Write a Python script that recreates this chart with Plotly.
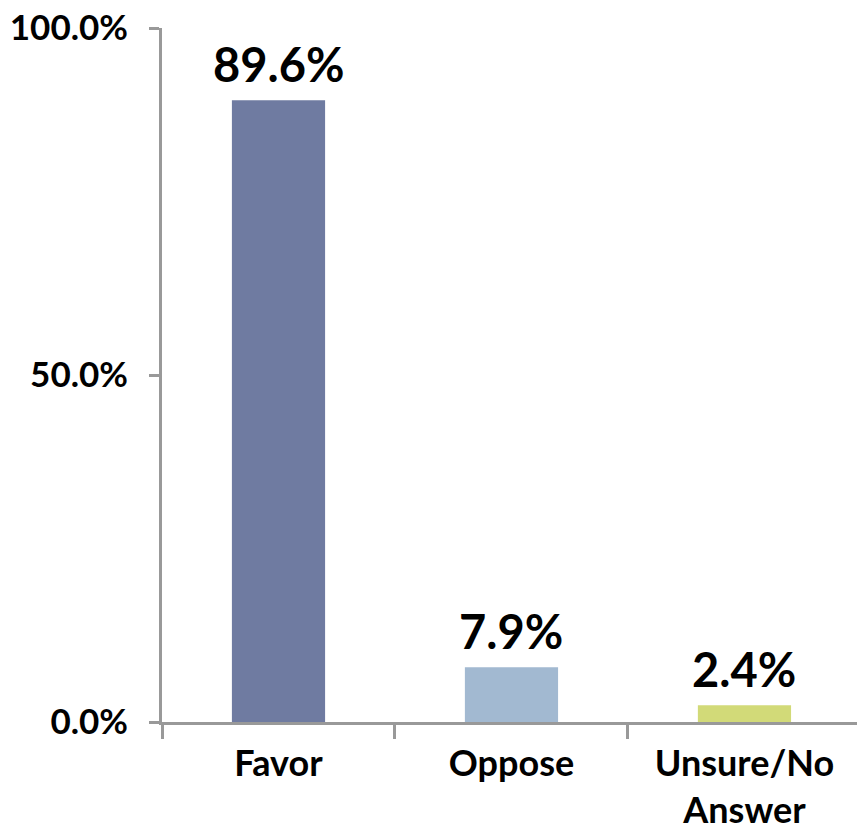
import plotly.graph_objects as go

categories = ["Favor", "Oppose", "Unsure/No<br>Answer"]
values = [0.896, 0.079, 0.024]
labels = ["89.6%", "7.9%", "2.4%"]
colors = ["#6f7ba1", "#a2b9d1", "#d2da78"]
y_ticks = [0, 0.5, 1.0]

fig = go.Figure(go.Bar(
    x=categories, y=values, marker_color=colors, marker_line_width=0,
    width=0.4, cliponaxis=False,
))

for cat, val, lab in zip(categories, values, labels):
    fig.add_annotation(
        x=cat, y=val, text=lab, showarrow=False, yanchor="bottom", yshift=6,
        font=dict(family="Lato", size=47, color="black", weight="bold"),
    )

fig.update_layout(
    width=857, height=835,
    margin=dict(l=162, r=0, t=28, b=113),
    plot_bgcolor="white", paper_bgcolor="white",
    showlegend=False,
    font=dict(family="Lato", color="black"),
)
fig.update_xaxes(
    range=[-0.5, 2.483], showline=True, linecolor="#999999", linewidth=3,
    ticks="outside", tickson="boundaries", ticklen=14, tickwidth=3, tickcolor="#999999",
    tickfont=dict(family="Lato", size=36, weight="bold"), showgrid=False,
    ticklabelstandoff=8, automargin=False,
)
fig.update_yaxes(
    range=[0, 1], tickvals=y_ticks, tickformat=".1%", showline=True,
    linecolor="#999999", linewidth=3, ticks="outside", ticklen=10, tickwidth=3,
    tickcolor="#999999", tickfont=dict(family="Lato", size=35, weight="bold"),
    showgrid=False, zeroline=False, ticklabelstandoff=14,
    ticklabeloverflow="allow", automargin=False,
)

fig.write_html(
    "out.html",
    config={"displayModeBar": False},
    post_script="document.body.style.margin='0';document.body.style.overflow='hidden';",
)
